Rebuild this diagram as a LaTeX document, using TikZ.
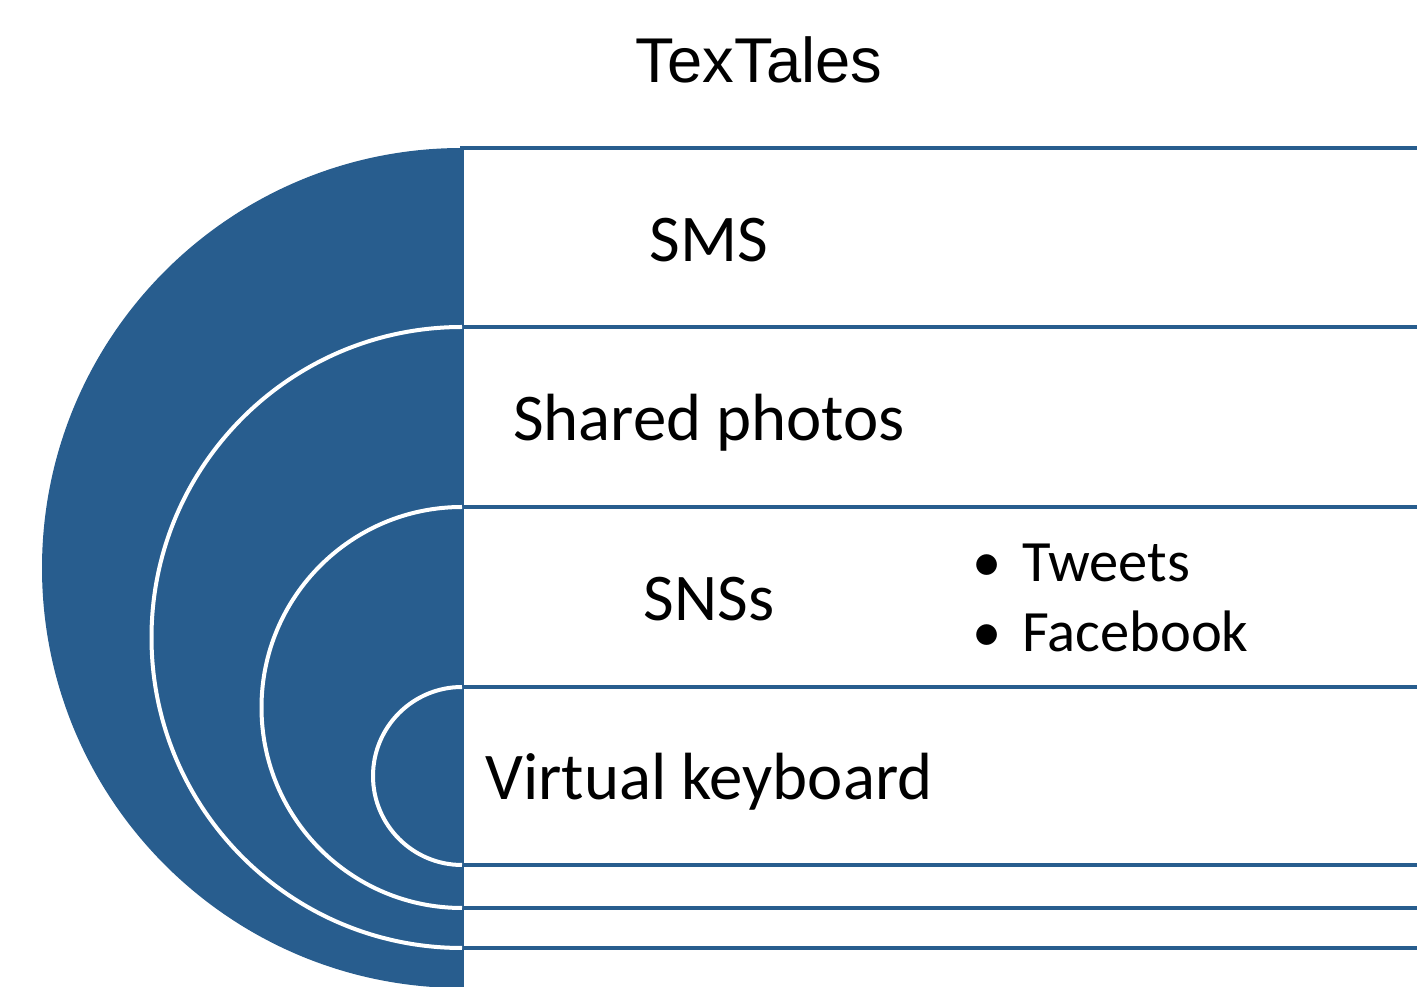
\documentclass[tikz,border=0pt]{standalone}
\usepackage{fontspec}
\setmainfont{Carlito}
\newfontfamily\arialfont{Liberation Sans}
\definecolor{ringblue}{RGB}{40,93,142}
\begin{document}
\begin{tikzpicture}[x=0.02cm,y=0.02cm,
  rowbox/.style={fill=white,draw=ringblue,line width=0.09cm},
  ringfill/.style={fill=ringblue},
  ringedge/.style={draw=white,line width=0.08cm},
  lbl/.style={anchor=base,font=\fontsize{38}{44}\selectfont,inner sep=0pt},
  blt/.style={anchor=base west,font=\fontsize{33.3}{40}\selectfont,inner sep=0pt},
  dot/.style={anchor=base,font=\fontsize{33.3}{40}\selectfont,inner sep=0pt}]
\useasboundingbox (0,0) rectangle (1417,987);
% level 1 (outer)
\draw[rowbox] (462,-6) rectangle (1440,839);
\fill[ringfill] (462,839) arc (90:270:420) -- cycle;
% level 2
\draw[rowbox] (462,39) rectangle (1440,660);
\fill[ringfill] (462,660) arc (90:270:310.5) -- cycle;
\draw[ringedge] (462,660) arc (90:270:310.5);
% level 3
\draw[rowbox] (462,79) rectangle (1440,480);
\fill[ringfill] (462,480) arc (90:270:200.5) -- cycle;
\draw[ringedge] (462,480) arc (90:270:200.5);
% level 4
\draw[rowbox] (462,122) rectangle (1440,300);
\fill[ringfill] (462,300) arc (90:270:89) -- cycle;
\draw[ringedge] (462,300) arc (90:270:89);
% texts
\node[anchor=base,inner sep=0pt,font=\arialfont\fontsize{36}{42}\selectfont] (title) at (759,904) {TexTales};
\node[lbl] (sms) at (709,725) {SMS};
\node[lbl] (photos) at (709,546) {Shared photos};
\node[lbl] (sns) at (709,366) {SNSs};
\node[lbl] (vk) at (709,187) {Virtual keyboard};
\node[dot] (b1) at (987,405) {•};
\node[blt] (tweets) at (1022,405) {Tweets};
\node[dot] (b2) at (987,335) {•};
\node[blt] (facebook) at (1022,335) {Facebook};
\end{tikzpicture}
\end{document}
